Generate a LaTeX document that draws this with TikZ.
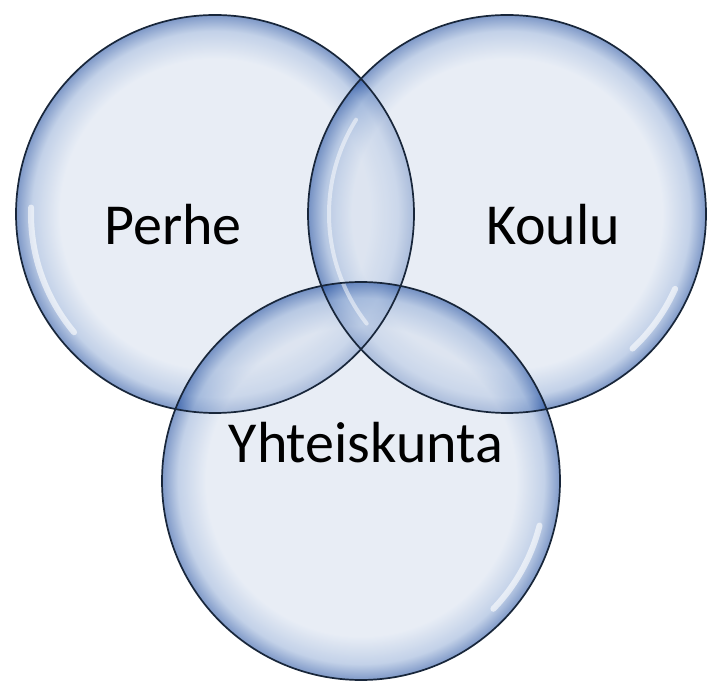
\documentclass[tikz,border=0pt]{standalone}
\usepackage{fontspec}
\setmainfont{Carlito}
\usepackage{tikz}
\usetikzlibrary{positioning}
\usepackage{xcolor}
\definecolor{bubblein}{RGB}{211,221,237}
\definecolor{bubblemid}{RGB}{140,168,212}
\definecolor{bubbleout}{RGB}{10,60,150}
\definecolor{bubbleline}{HTML}{18263A}
\pgfdeclareradialshading{bubbleglass}{\pgfpointorigin}{color(0bp)=(bubblein); color(19.5bp)=(bubblein); color(23bp)=(bubblemid); color(25bp)=(bubbleout); color(50bp)=(bubbleout)}
\tikzset{
  bubble/.style={circle, minimum size=398pt, inner sep=0pt, outer sep=0pt, shading=bubbleglass, fill opacity=0.52},
  rimline/.style={draw=bubbleline, line width=1.7pt},
  shine/.style={white, line width=6pt, line cap=round, opacity=0.6},
  bubbletext/.style={anchor=base, inner sep=0pt, font=\fontsize{58}{70}\selectfont, text=black}
}

\begin{document}
\begin{tikzpicture}[x=1pt, y=1pt]
    \useasboundingbox (0,0) rectangle (708,682);
    \fill[white] (0,0) rectangle (708,682);

    % the three bubbles
    \node[bubble] (perhe) at (215,468) {};
    \node[bubble] (koulu) at (507,468) {};
    \node[bubble] (yhteis) at (361,201) {};

    % glassy highlights
    \draw[shine] (perhe.center) ++(178:184) arc[start angle=178, end angle=220, radius=184];
    \draw[shine] (koulu.center) ++(313:184) arc[start angle=313, end angle=336, radius=184];
    \draw[shine, line width=4pt, opacity=0.5] (koulu.center) ++(148:178) arc[start angle=148, end angle=218, radius=178];
    \draw[shine] (yhteis.center) ++(316:184) arc[start angle=316, end angle=346, radius=184];

    % outlines on top
    \draw[rimline] (perhe.center) circle[radius=199];
    \draw[rimline] (koulu.center) circle[radius=199];
    \draw[rimline] (yhteis.center) circle[radius=199];

    % texts
    \node[bubbletext] (perhetxt) at (173,437) {Perhe};
    \node[bubbletext] (koulutxt) at (553,437) {Koulu};
    \node[bubbletext] (yhteistxt) at (366,219) {Yhteiskunta};
\end{tikzpicture}
\end{document}
